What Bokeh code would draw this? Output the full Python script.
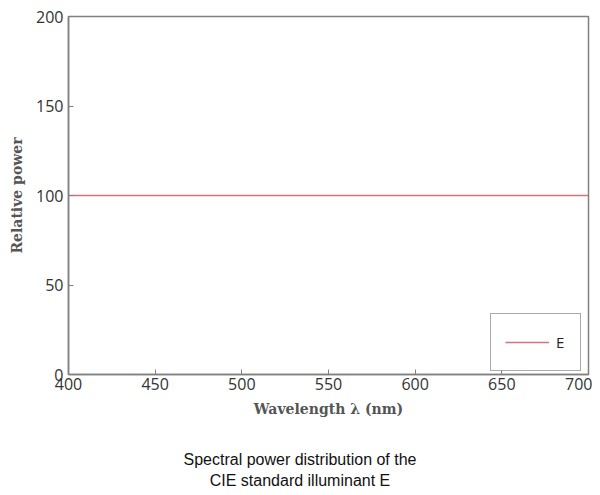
from bokeh.plotting import figure
from bokeh.models import Range1d, Legend, LegendItem, FixedTicker, Div
from bokeh.layouts import column
from bokeh.embed import file_html
from bokeh.resources import INLINE

wavelength = [400, 450, 500, 550, 600, 650, 700]
power = [100, 100, 100, 100, 100, 100, 100]
x_ticks = [400, 450, 500, 550, 600, 650, 700]
y_ticks = [0, 50, 100, 150, 200]
series_name = "E"
caption = ["Spectral power distribution of the", "CIE standard illuminant E"]

p = figure(width=592, height=449, output_backend="svg", toolbar_location=None,
           x_range=Range1d(400, 700), y_range=Range1d(0, 200),
           min_border_left=68, min_border_top=16, min_border_right=4, min_border_bottom=75)
p.frame_width = 520
p.frame_height = 358

p.grid.visible = False
p.outline_line_color = "#808080"
p.outline_line_width = 1.5
p.background_fill_color = "white"
p.border_fill_color = "white"

for ax in (p.xaxis[0], p.yaxis[0]):
    ax.axis_line_color = "#808080"
    ax.axis_line_width = 1.5
    ax.major_tick_in = 5
    ax.major_tick_out = 0
    ax.major_tick_line_color = "#808080"
    ax.minor_tick_line_color = None
    ax.major_label_text_font = "Open Sans"
    ax.major_label_text_font_size = "16px"
    ax.major_label_text_color = "#333333"
    ax.axis_label_text_font = "DejaVu Serif"
    ax.axis_label_text_font_style = "bold"
    ax.axis_label_text_font_size = "14px"
    ax.axis_label_text_color = "#555555"

p.xaxis.ticker = FixedTicker(ticks=x_ticks)
p.yaxis.ticker = FixedTicker(ticks=y_ticks)
p.xaxis.axis_label = "Wavelength λ (nm)"
p.yaxis.axis_label = "Relative power"
p.xaxis.major_label_standoff = 3
p.xaxis.axis_label_standoff = 8
p.yaxis.major_label_standoff = 5
p.yaxis.axis_label_standoff = 8

r = p.line(wavelength, power, line_color="#d9707a", line_width=1.5)

legend = Legend(items=[LegendItem(label=series_name, renderers=[r])],
                location=(422, 3), orientation="vertical",
                border_line_color="#555555", border_line_width=1.2,
                background_fill_alpha=1.0,
                glyph_width=44, glyph_height=20, label_standoff=7,
                padding=14, margin=0,
                label_text_font="Open Sans", label_text_font_size="15px",
                label_text_color="#222222", label_height=28, label_width=10)
p.add_layout(legend, "center")

div = Div(text="<br>".join(caption), width=584, height=42, margin=(0, 0, 0, 8),
          styles={"text-align": "center", "font-family": "'Liberation Sans', Arial, sans-serif",
                  "font-size": "16px", "line-height": "21px", "color": "#111111",
                  "width": "584px"})

layout = column(p, div, spacing=0)
open("out.html", "w").write(file_html(layout, INLINE))
